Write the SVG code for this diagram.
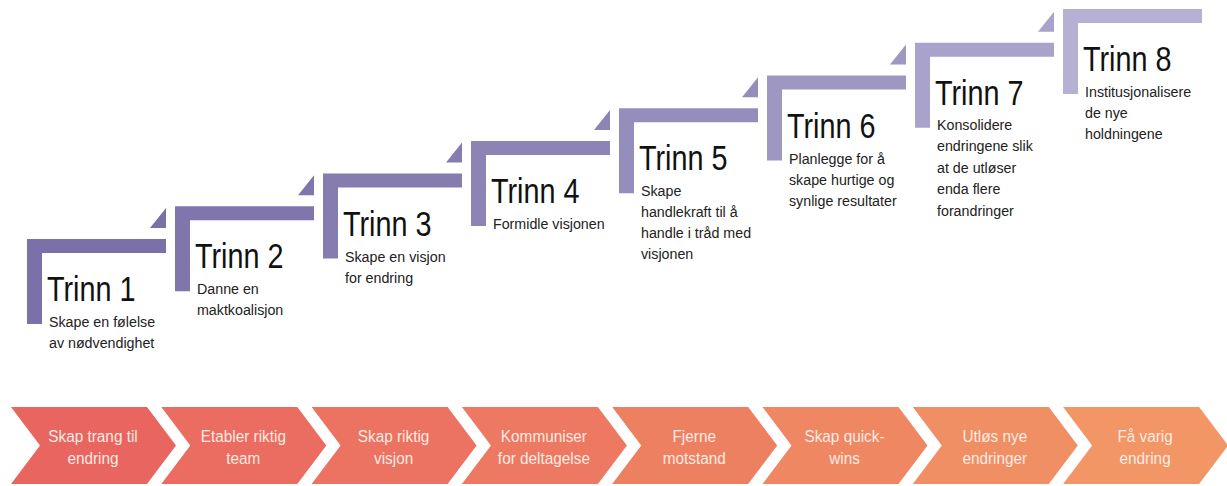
<svg xmlns="http://www.w3.org/2000/svg" width="1227" height="486" viewBox="0 0 1227 486">
<style>
.title{font-family:"Liberation Sans",Arial,sans-serif;font-size:36px;fill:#111;}
.sub{font-family:"Liberation Sans",Arial,sans-serif;font-size:15.5px;fill:#222;}
.chev text{font-family:"Liberation Sans",Arial,sans-serif;font-size:16.5px;fill:#fcebe3;text-anchor:middle;}
</style>
<rect width="1227" height="486" fill="#ffffff"/>
<g id="step1" fill="#7b70a8">
<path d="M27 239H166V253H42V324H27Z"/><path d="M150 228H166V208Z"/>
<text class="title" transform="translate(47 301) scale(0.8 1)">Trinn 1</text>
<text class="sub" transform="translate(49 327) scale(0.92 1)">Skape en følelse</text>
<text class="sub" transform="translate(49 348) scale(0.92 1)">av nødvendighet</text>
</g>
<g id="step2" fill="#8076ab">
<path d="M175 206.3H314V220.3H190V291.3H175Z"/><path d="M298 195.3H314V175.3Z"/>
<text class="title" transform="translate(195 268.3) scale(0.8 1)">Trinn 2</text>
<text class="sub" transform="translate(197 294.3) scale(0.92 1)">Danne en</text>
<text class="sub" transform="translate(197 315.3) scale(0.92 1)">maktkoalisjon</text>
</g>
<g id="step3" fill="#867caf">
<path d="M323 173.6H462V187.6H338V258.6H323Z"/><path d="M446 162.6H462V142.6Z"/>
<text class="title" transform="translate(343 235.6) scale(0.8 1)">Trinn 3</text>
<text class="sub" transform="translate(345 261.6) scale(0.92 1)">Skape en visjon</text>
<text class="sub" transform="translate(345 282.6) scale(0.92 1)">for endring</text>
</g>
<g id="step4" fill="#8d84b5">
<path d="M471 140.9H610V154.9H486V225.9H471Z"/><path d="M594 129.9H610V109.9Z"/>
<text class="title" transform="translate(491 202.9) scale(0.8 1)">Trinn 4</text>
<text class="sub" transform="translate(493 228.9) scale(0.92 1)">Formidle visjonen</text>
</g>
<g id="step5" fill="#958dbb">
<path d="M619 108.2H758V122.2H634V193.2H619Z"/><path d="M742 97.2H758V77.2Z"/>
<text class="title" transform="translate(639 170.2) scale(0.8 1)">Trinn 5</text>
<text class="sub" transform="translate(641 196.2) scale(0.92 1)">Skape</text>
<text class="sub" transform="translate(641 217.2) scale(0.92 1)">handlekraft til å</text>
<text class="sub" transform="translate(641 238.2) scale(0.92 1)">handle i tråd med</text>
<text class="sub" transform="translate(641 259.2) scale(0.92 1)">visjonen</text>
</g>
<g id="step6" fill="#9e97c2">
<path d="M767 75.5H906V89.5H782V160.5H767Z"/><path d="M890 64.5H906V44.5Z"/>
<text class="title" transform="translate(787 137.5) scale(0.8 1)">Trinn 6</text>
<text class="sub" transform="translate(789 163.5) scale(0.92 1)">Planlegge for å</text>
<text class="sub" transform="translate(789 184.5) scale(0.92 1)">skape hurtige og</text>
<text class="sub" transform="translate(789 205.5) scale(0.92 1)">synlige resultater</text>
</g>
<g id="step7" fill="#a9a2ca">
<path d="M915 42.8H1054V56.8H930V127.8H915Z"/><path d="M1038 31.8H1054V11.8Z"/>
<text class="title" transform="translate(935 104.8) scale(0.8 1)">Trinn 7</text>
<text class="sub" transform="translate(937 129.8) scale(0.92 1)">Konsolidere</text>
<text class="sub" transform="translate(937 151.3) scale(0.92 1)">endringene slik</text>
<text class="sub" transform="translate(937 172.8) scale(0.92 1)">at de utløser</text>
<text class="sub" transform="translate(937 194.3) scale(0.92 1)">enda flere</text>
<text class="sub" transform="translate(937 215.8) scale(0.92 1)">forandringer</text>
</g>
<g id="step8" fill="#b6b0d4">
<path d="M1063 9H1202V23H1078V94H1063Z"/>
<text class="title" transform="translate(1083 71) scale(0.8 1)">Trinn 8</text>
<text class="sub" transform="translate(1085 97) scale(0.92 1)">Institusjonalisere</text>
<text class="sub" transform="translate(1085 118) scale(0.92 1)">de nye</text>
<text class="sub" transform="translate(1085 139) scale(0.92 1)">holdningene</text>
</g>
<g id="connectors"/>
<g id="chev1" class="chev"><path d="M11 407H147L176 445.5L147 484H11L40 445.5Z" fill="#e9655f"/><text transform="translate(93 442) scale(0.93 1)">Skap trang til</text><text transform="translate(93 464) scale(0.93 1)">endring</text></g>
<g id="chev2" class="chev"><path d="M161.3 407H297.3L326.3 445.5L297.3 484H161.3L190.3 445.5Z" fill="#eb6c60"/><text transform="translate(243.3 442) scale(0.93 1)">Etabler riktig</text><text transform="translate(243.3 464) scale(0.93 1)">team</text></g>
<g id="chev3" class="chev"><path d="M311.6 407H447.6L476.6 445.5L447.6 484H311.6L340.6 445.5Z" fill="#ec7261"/><text transform="translate(393.6 442) scale(0.93 1)">Skap riktig</text><text transform="translate(393.6 464) scale(0.93 1)">visjon</text></g>
<g id="chev4" class="chev"><path d="M461.9 407H597.9L626.9 445.5L597.9 484H461.9L490.9 445.5Z" fill="#ed7962"/><text transform="translate(543.9 442) scale(0.93 1)">Kommuniser</text><text transform="translate(543.9 464) scale(0.93 1)">for deltagelse</text></g>
<g id="chev5" class="chev"><path d="M612.2 407H748.2L777.2 445.5L748.2 484H612.2L641.2 445.5Z" fill="#ee8062"/><text transform="translate(694.2 442) scale(0.93 1)">Fjerne</text><text transform="translate(694.2 464) scale(0.93 1)">motstand</text></g>
<g id="chev6" class="chev"><path d="M762.5 407H898.5L927.5 445.5L898.5 484H762.5L791.5 445.5Z" fill="#ef8763"/><text transform="translate(844.5 442) scale(0.93 1)">Skap quick-</text><text transform="translate(844.5 464) scale(0.93 1)">wins</text></g>
<g id="chev7" class="chev"><path d="M912.8 407H1048.8L1077.8 445.5L1048.8 484H912.8L941.8 445.5Z" fill="#f08e64"/><text transform="translate(994.8 442) scale(0.93 1)">Utløs nye</text><text transform="translate(994.8 464) scale(0.93 1)">endringer</text></g>
<g id="chev8" class="chev"><path d="M1063.1 407H1199.1L1228.1 445.5L1199.1 484H1063.1L1092.1 445.5Z" fill="#f29665"/><text transform="translate(1145.1 442) scale(0.93 1)">Få varig</text><text transform="translate(1145.1 464) scale(0.93 1)">endring</text></g>
</svg>
